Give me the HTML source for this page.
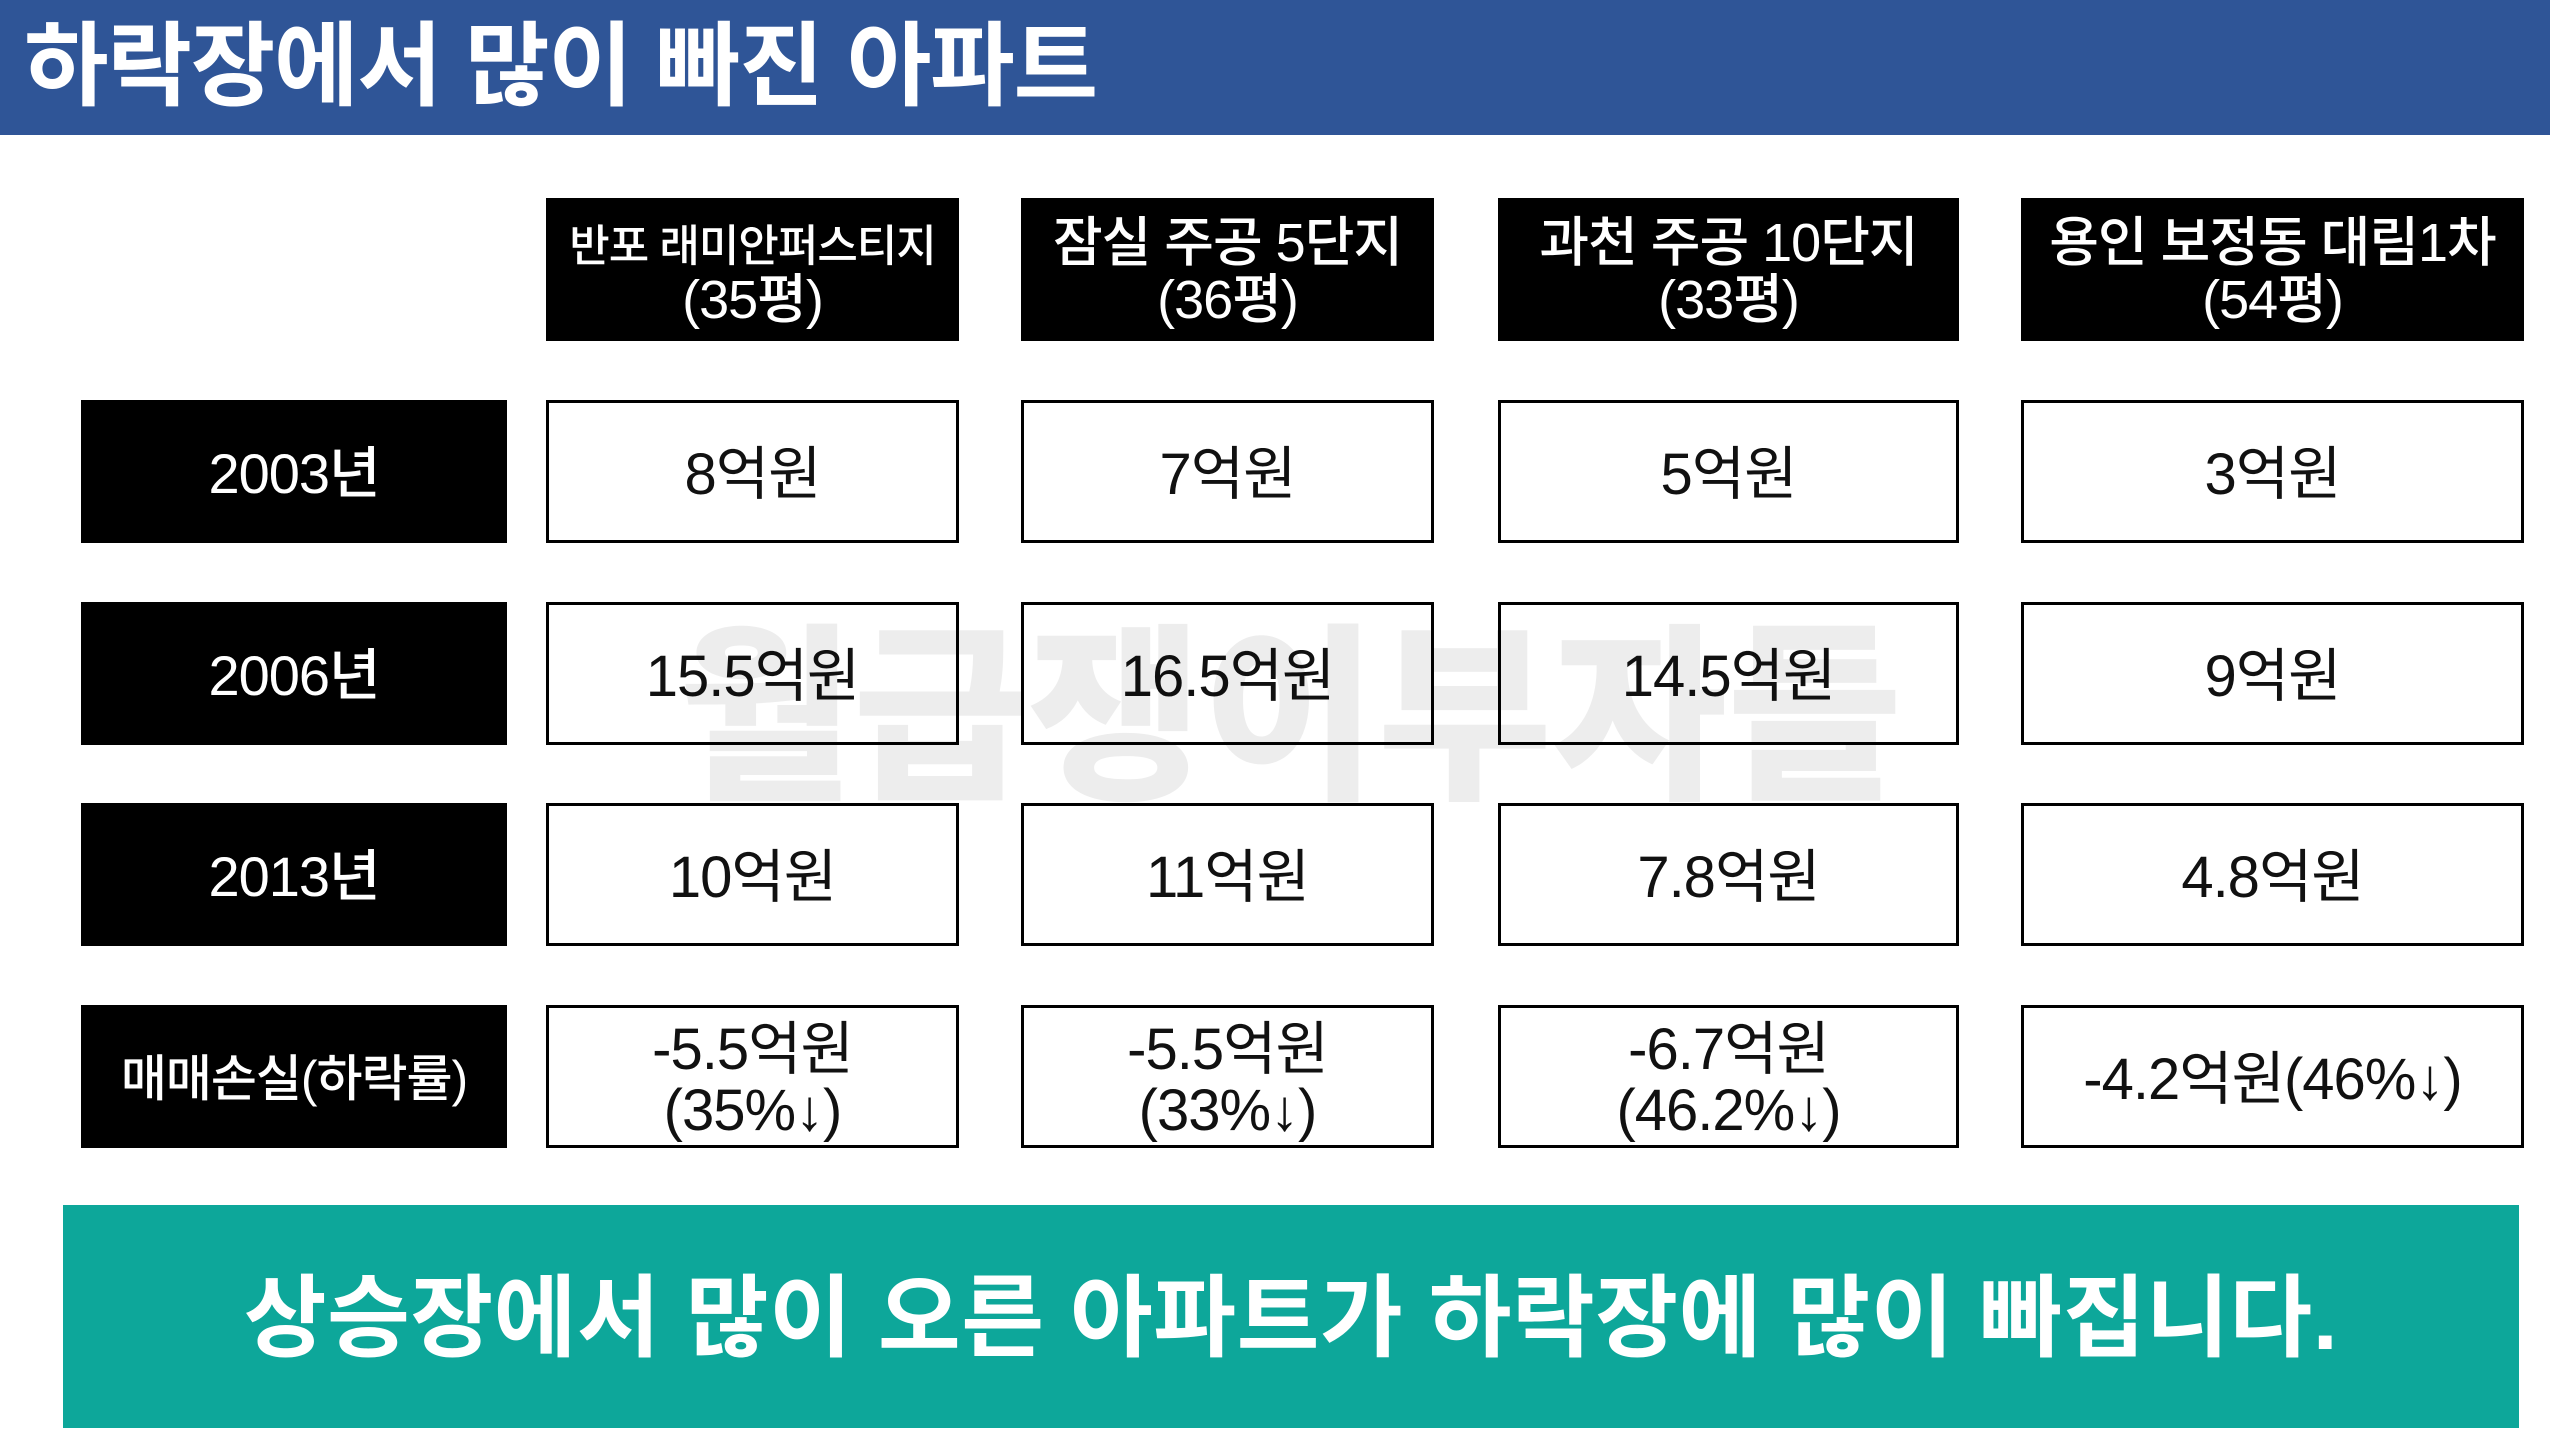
<!DOCTYPE html>
<html><head><meta charset="utf-8">
<style>
body{margin:0;width:2550px;height:1450px;background:#fff;position:relative;overflow:hidden;font-family:"Liberation Sans","Noto Sans CJK KR",sans-serif;}
.abs{position:absolute;box-sizing:border-box;display:flex;align-items:center;justify-content:center;text-align:center;line-height:1.05;}
.hdr{background:#000;color:#fff;font-size:54px;font-weight:500;letter-spacing:-1px;padding-top:4px;}
.lbl{background:#000;color:#fff;font-size:56px;font-weight:500;letter-spacing:-1px;padding-top:6px;}
.cell{background:#fff;border:3px solid #000;color:#111;font-size:58px;letter-spacing:-1px;padding-top:8px;}
</style></head><body>
<div class="abs" style="left:0;top:0;width:2550px;height:135px;background:#2f5597;justify-content:flex-start;padding-left:24px;color:#fff;font-size:92px;font-weight:700;letter-spacing:-1.3px;">하락장에서 많이 빠진 아파트</div>
<div class="abs" style="left:640px;top:610px;width:1300px;height:220px;font-size:190px;font-weight:900;color:rgba(0,0,0,0.07);z-index:5;">월급쟁이부자들</div>

<div class="abs hdr" style="left:546px;top:198px;width:413px;height:143px;"><div><span style="font-size:44px">반포 래미안퍼스티지</span><br>(35평)</div></div>
<div class="abs hdr" style="left:1021px;top:198px;width:413px;height:143px;"><div>잠실 주공 5단지<br>(36평)</div></div>
<div class="abs hdr" style="left:1498px;top:198px;width:461px;height:143px;"><div>과천 주공 10단지<br>(33평)</div></div>
<div class="abs hdr" style="left:2021px;top:198px;width:503px;height:143px;"><div>용인 보정동 대림1차<br>(54평)</div></div>

<div class="abs lbl" style="left:81px;top:400px;width:426px;height:143px;">2003년</div>
<div class="abs lbl" style="left:81px;top:602px;width:426px;height:143px;">2006년</div>
<div class="abs lbl" style="left:81px;top:803px;width:426px;height:143px;">2013년</div>
<div class="abs lbl" style="left:81px;top:1005px;width:426px;height:143px;font-size:50px;">매매손실(하락률)</div>

<div class="abs cell" style="left:546px;top:400px;width:413px;height:143px;">8억원</div>
<div class="abs cell" style="left:1021px;top:400px;width:413px;height:143px;">7억원</div>
<div class="abs cell" style="left:1498px;top:400px;width:461px;height:143px;">5억원</div>
<div class="abs cell" style="left:2021px;top:400px;width:503px;height:143px;">3억원</div>

<div class="abs cell" style="left:546px;top:602px;width:413px;height:143px;">15.5억원</div>
<div class="abs cell" style="left:1021px;top:602px;width:413px;height:143px;">16.5억원</div>
<div class="abs cell" style="left:1498px;top:602px;width:461px;height:143px;">14.5억원</div>
<div class="abs cell" style="left:2021px;top:602px;width:503px;height:143px;">9억원</div>

<div class="abs cell" style="left:546px;top:803px;width:413px;height:143px;">10억원</div>
<div class="abs cell" style="left:1021px;top:803px;width:413px;height:143px;">11억원</div>
<div class="abs cell" style="left:1498px;top:803px;width:461px;height:143px;">7.8억원</div>
<div class="abs cell" style="left:2021px;top:803px;width:503px;height:143px;">4.8억원</div>

<div class="abs cell" style="left:546px;top:1005px;width:413px;height:143px;"><div>-5.5억원<br>(35%↓)</div></div>
<div class="abs cell" style="left:1021px;top:1005px;width:413px;height:143px;"><div>-5.5억원<br>(33%↓)</div></div>
<div class="abs cell" style="left:1498px;top:1005px;width:461px;height:143px;"><div>-6.7억원<br>(46.2%↓)</div></div>
<div class="abs cell" style="left:2021px;top:1005px;width:503px;height:143px;">-4.2억원(46%↓)</div>

<div class="abs" style="left:63px;top:1205px;width:2456px;height:223px;background:#0da79a;color:#fff;font-size:90px;font-weight:700;letter-spacing:0.5px;padding-top:6px;">상승장에서 많이 오른 아파트가 하락장에 많이 빠집니다.</div>
</body></html>
